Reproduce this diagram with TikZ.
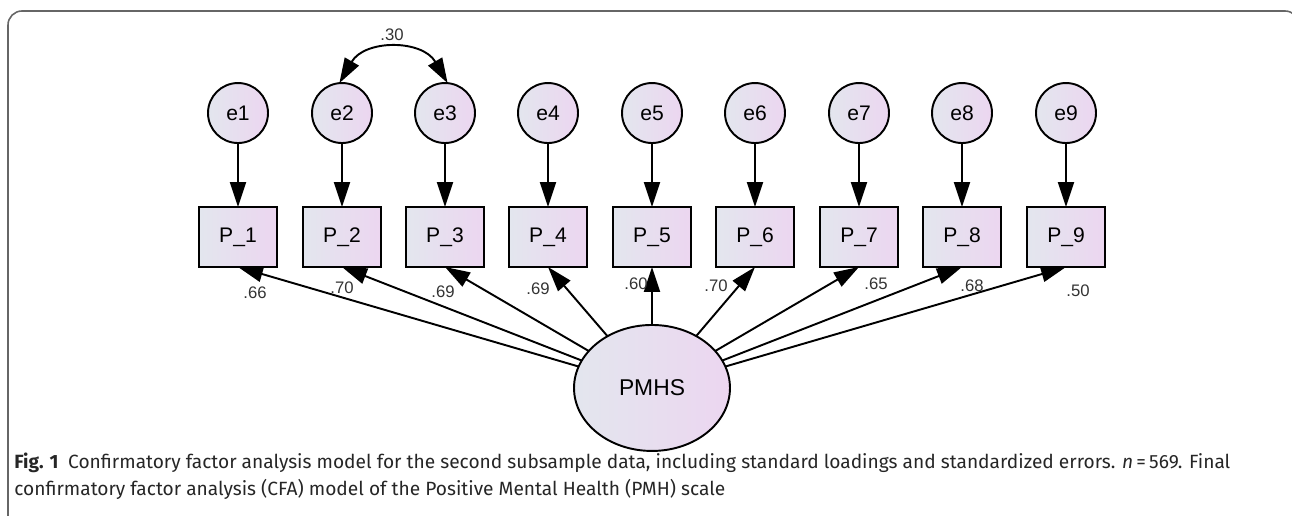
\documentclass[tikz,border=0pt]{standalone}
\usepackage{fontspec}
\setmainfont{Liberation Sans}
\newfontfamily\capfont{Fira Sans}
\usepackage{xcolor}
\usepackage{tikz}
\usetikzlibrary{shapes,positioning,arrows.meta}
\tikzset{>={Triangle[length=5mm,width=3.2mm]}}
\definecolor{amosblue}{HTML}{E3E6EE}
\definecolor{amospink}{HTML}{ECD6F0}
\definecolor{framegray}{HTML}{666666}

\begin{document}
\begin{tikzpicture}[x=0.02cm, y=-0.02cm,
node distance=1.28cm and 0.51cm,
obsnode/.style={rectangle, draw=black, line width=1.1pt, outer sep=0pt, left color=amosblue, right color=amospink, minimum width=15.6mm, minimum height=12mm, font=\fontsize{12}{14}\selectfont},
errnode/.style={circle, draw=black, line width=1.1pt, outer sep=0pt, inner sep=0pt, left color=amosblue, right color=amospink, minimum size=12mm, font=\fontsize{12}{14}\selectfont},
latnode/.style={ellipse, draw=black, line width=1.1pt, outer sep=0pt, left color=amosblue, right color=amospink, minimum width=31.2mm, minimum height=25.2mm, font=\fontsize{13}{15}\selectfont},
loading/.style={inner sep=0pt, text=black!80, font=\fontsize{9.5}{11}\selectfont},
arr/.style={->, line width=1.1pt},
]
\useasboundingbox (0,0) rectangle (1292,516);
%Frame
\begin{scope}
\clip (0,0) rectangle (1292,516);
\draw[framegray, line width=0.9pt, rounded corners=2.8mm] (8,540) -- (8,11) -- (1299,11) -- (1299,540);
\end{scope}

%Nodes
\node[obsnode](P_1) at (238,237){P\_1};
\node[obsnode](P_2) at (342,237){P\_2};
\node[obsnode](P_3) at (445,237){P\_3};
\node[obsnode](P_4) at (548,237){P\_4};
\node[obsnode](P_5) at (652,237){P\_5};
\node[obsnode](P_6) at (755,237){P\_6};
\node[obsnode](P_7) at (859,237){P\_7};
\node[obsnode](P_8) at (962,237){P\_8};
\node[obsnode](P_9) at (1066,237){P\_9};

\node[errnode](e1)[above= of P_1]{e1};
\node[errnode](e2)[above= of P_2]{e2};
\node[errnode](e3)[above= of P_3]{e3};
\node[errnode](e4)[above= of P_4]{e4};
\node[errnode](e5)[above= of P_5]{e5};
\node[errnode](e6)[above= of P_6]{e6};
\node[errnode](e7)[above= of P_7]{e7};
\node[errnode](e8)[above= of P_8]{e8};
\node[errnode](e9)[above= of P_9]{e9};

\node[latnode](PMHS)[below=1.16cm of P_5]{PMHS};

%Lines
\draw[arr] (e1) -- (P_1);
\draw[arr] (e2) -- (P_2);
\draw[arr] (e3) -- (P_3);
\draw[arr] (e4) -- (P_4);
\draw[arr] (e5) -- (P_5);
\draw[arr] (e6) -- (P_6);
\draw[arr] (e7) -- (P_7);
\draw[arr] (e8) -- (P_8);
\draw[arr] (e9) -- (P_9);
\draw[arr, <->] (e2.95) to[out=60, in=120, looseness=1.2] (e3.85);

\draw[arr] (PMHS) -- (P_1.south);
\draw[arr] (PMHS) -- (P_2.south);
\draw[arr] (PMHS) -- (P_3.south);
\draw[arr] (PMHS) -- (P_4.south);
\draw[arr] (PMHS) -- (P_5.south);
\draw[arr] (PMHS) -- (P_6.south);
\draw[arr] (PMHS) -- (P_7.south);
\draw[arr] (PMHS) -- (P_8.south);
\draw[arr] (PMHS) -- (P_9.south);

%Loadings
\node[loading](r23) at (392,35){.30};
\node[loading](l1) at (255,293){.66};
\node[loading](l2) at (342,288){.70};
\node[loading](l3) at (443,292){.69};
\node[loading](l4) at (538,289){.69};
\node[loading](l5) at (636,284){.60};
\node[loading](l6) at (716,286){.70};
\node[loading](l7) at (876,284){.65};
\node[loading](l8) at (972,286){.68};
\node[loading](l9) at (1078,291){.50};

%Caption
\node[anchor=north west, inner sep=0pt, align=left, text=black!85, font=\capfont\fontsize{10.9}{15.3}\selectfont](caption) at (14,453){\textbf{Fig. 1}\enspace Confirmatory factor analysis model for the second subsample data, including standard loadings and standardized errors. \textit{n}\,=\,569. Final\\confirmatory factor analysis (CFA) model of the Positive Mental Health (PMH) scale};
\end{tikzpicture}
\end{document}
